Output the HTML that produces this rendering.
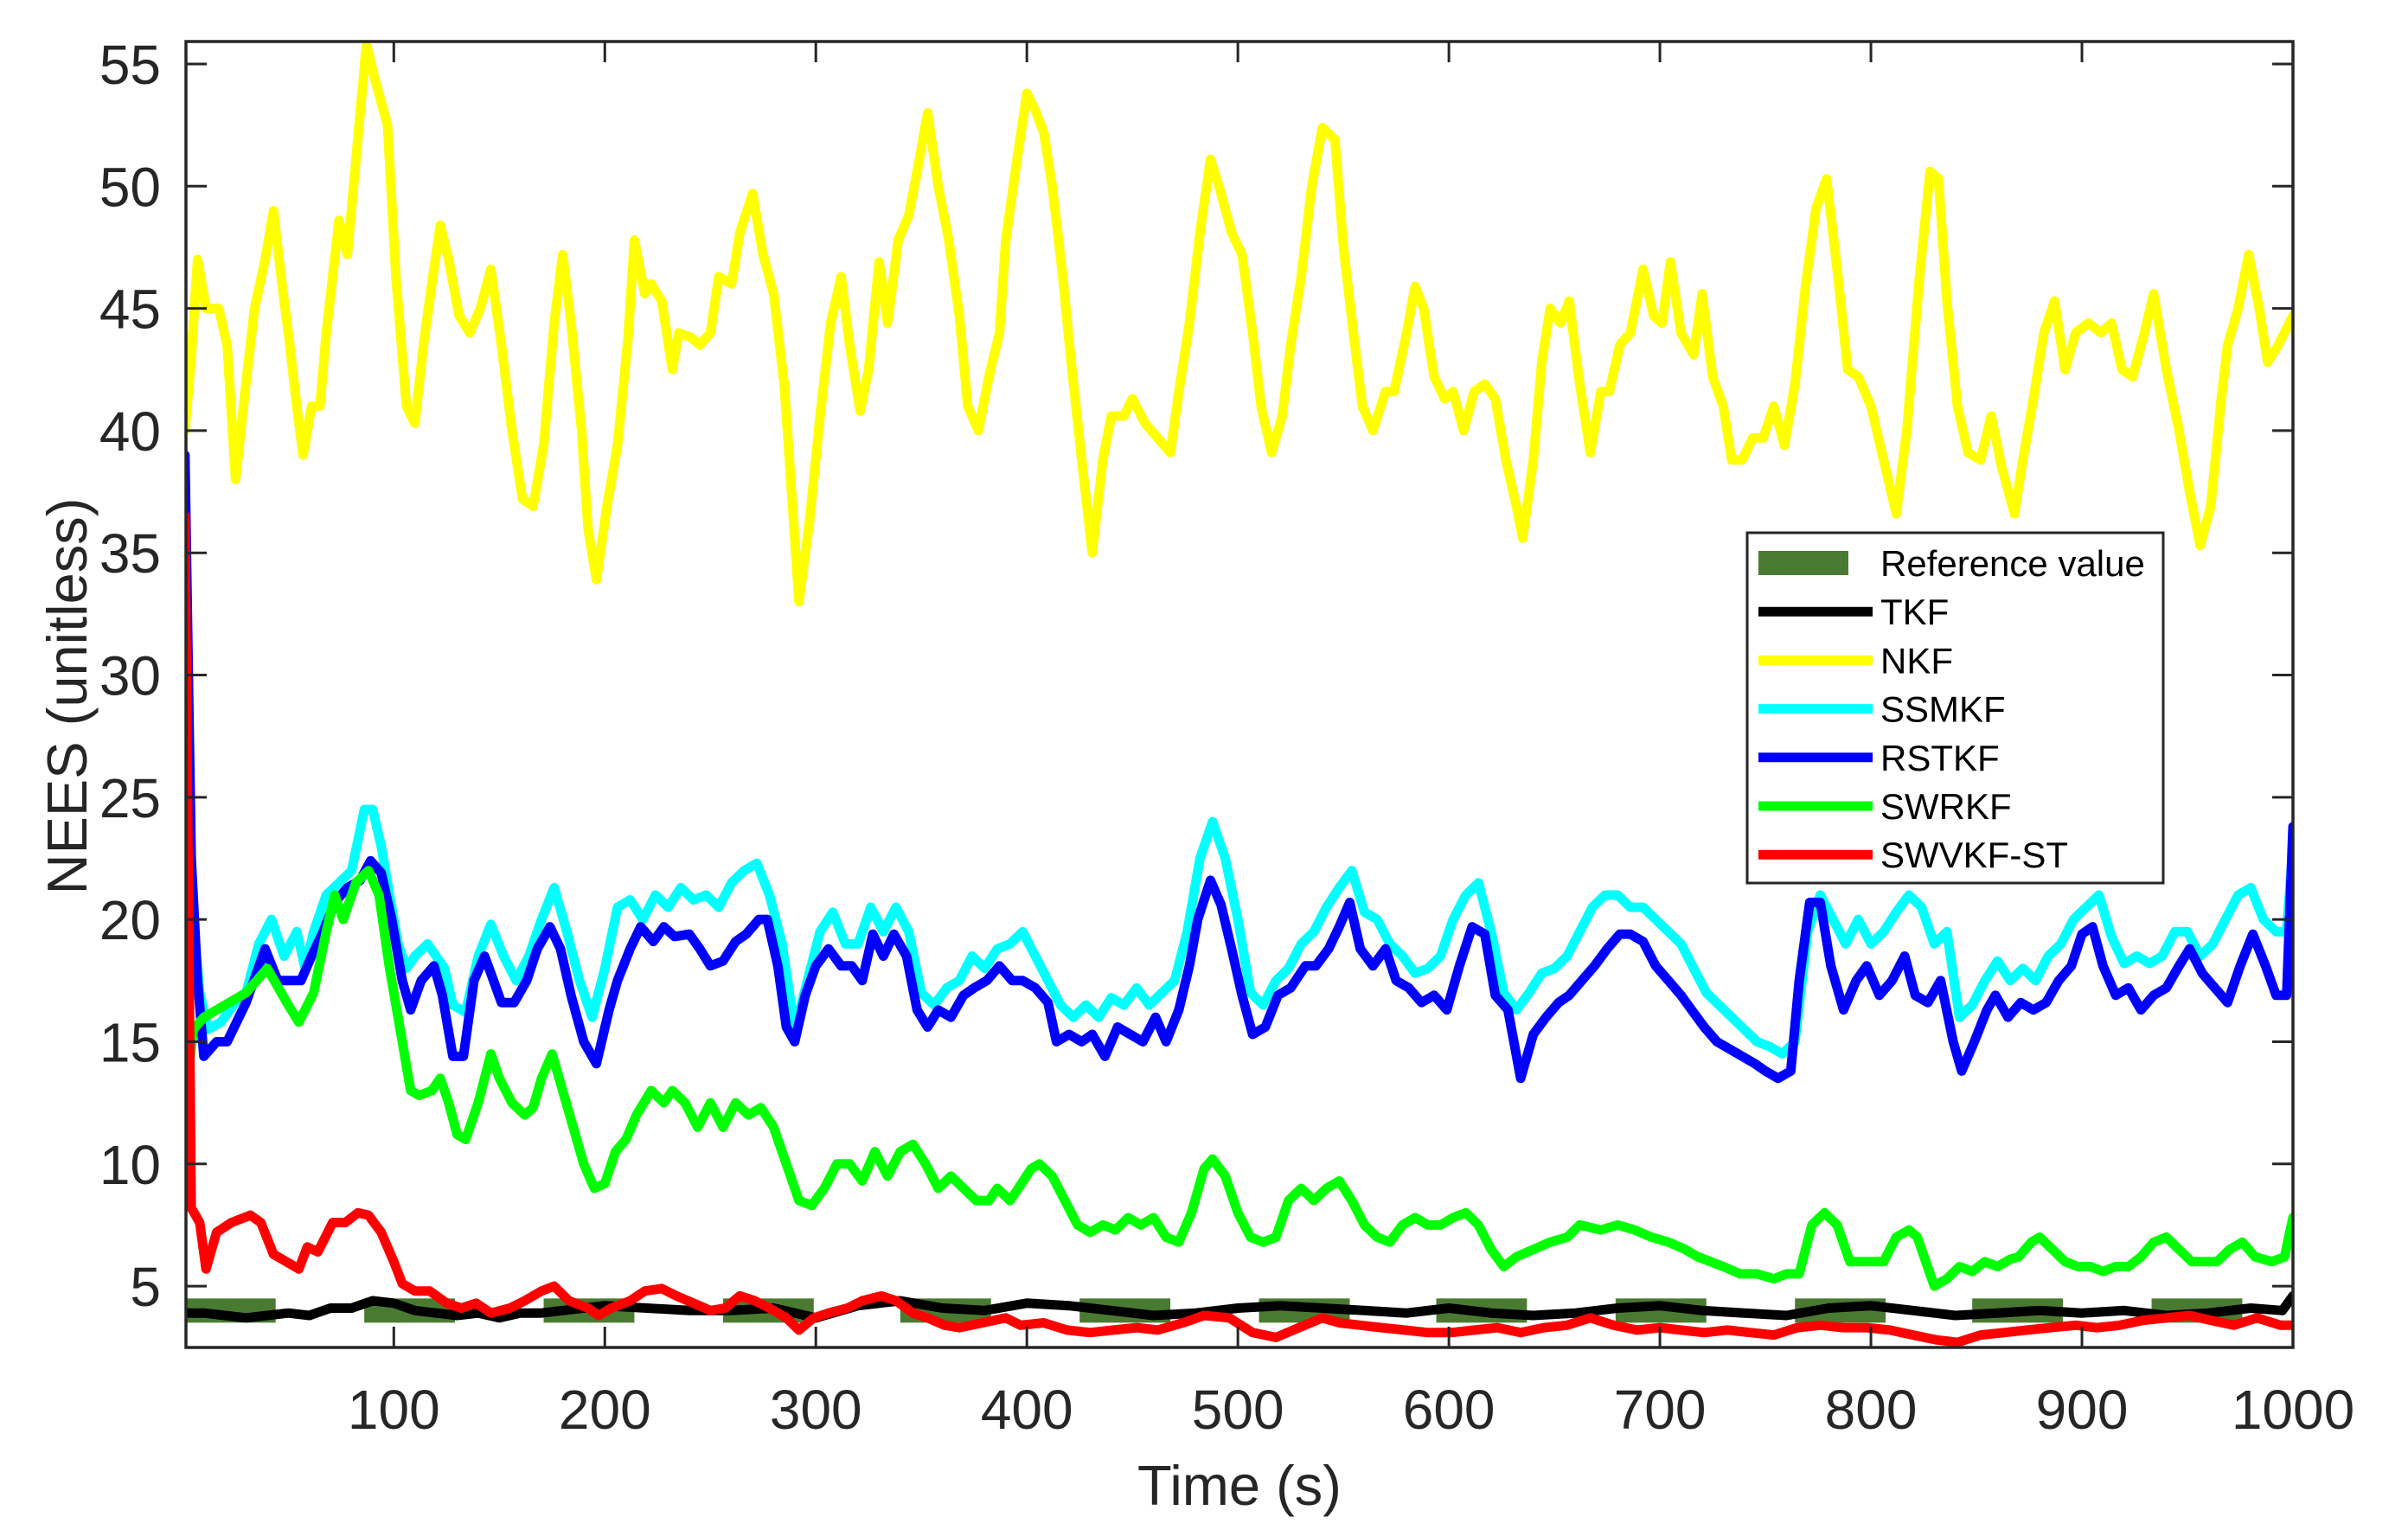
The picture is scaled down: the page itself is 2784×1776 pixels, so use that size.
<!DOCTYPE html>
<html><head><meta charset="utf-8">
<style>
html,body{margin:0;padding:0;background:#fff;}
svg{display:block;font-family:"Liberation Sans",Arial,sans-serif;}
</style></head>
<body>
<svg id="chart" width="2784" height="1776" viewBox="0 0 2784 1776" xmlns="http://www.w3.org/2000/svg">
<rect x="0" y="0" width="2784" height="1776" fill="#fff"/>
<g id="plot"></g>
<g id="axes"></g>
<g id="legend"></g>
</svg>
<script>
// ---- data ----
const xTicks = [100,200,300,400,500,600,700,800,900,1000];
const yTicks = [5,10,15,20,25,30,35,40,45,50,55];
const refStarts = [1,86,171,256,340,425,510,594,679,764,848,933];
const refLength = 43;
const refValue = 4;
const nkfX = [1,4,7,11,17,21,25,30,34,39,43,47,50,54,57,61,65,68,74,78,83,87,91,97,101,106,110,114,118,122,126,131,136,141,146,151,156,161,166,171,176,180,184,189,192,196,201,206,211,214,219,222,227,232,235,241,245,250,254,260,264,270,275,280,285,288,292,297,302,307,312,316,321,325,330,334,339,344,348,353,358,363,368,372,377,382,387,390,395,400,404,408,412,417,421,426,431,436,440,446,450,456,462,468,472,477,482,487,492,497,502,507,511,516,521,525,530,535,540,546,550,555,559,564,570,574,580,584,588,593,598,602,607,612,617,622,627,632,635,640,644,648,653,657,662,667,672,676,681,686,692,697,701,705,710,716,720,725,730,734,739,744,749,754,759,764,769,774,779,784,789,794,800,806,812,817,823,828,832,836,841,846,852,857,862,868,872,877,882,887,892,897,903,909,914,919,924,929,934,940,946,951,956,961,966,969,974,979,984,988,993,1000];
const nkfY = [40,43,47,45,45,43.5,38,42,45,47,49,46,44,41,39,41,41,44,48.6,47.2,52,55.8,54.4,52.5,46.3,41,40.3,43.5,46,48.4,47,44.7,44,45,46.6,43.5,40,37.2,36.9,39.4,44.4,47.2,44.4,40,36,33.9,36.9,39.4,43.8,47.8,45.6,46,45.3,42.5,44,43.8,43.5,44,46.3,46,48.1,49.7,47.2,45.6,41.9,38.1,33,36.3,40.6,44.4,46.3,43.5,40.8,42.5,46.9,44.4,47.8,48.8,50.6,53,50,47.8,44.7,41,40,42.2,44,47.8,50.9,53.8,53.1,52.2,50,46.3,42.8,38.8,35,38.8,40.6,40.6,41.3,40.3,39.7,39.1,41.6,44.4,48.1,51.1,49.7,48.1,47.2,44,41,39.1,40.6,43.5,46.3,50,52.4,51.9,47.5,43.8,41,40,41.6,41.6,44,45.9,45,42.2,41.3,41.6,40,41.6,41.9,41.3,38.8,36.9,35.6,38.8,42.8,45,44.4,45.3,41.9,39.1,41.6,41.6,43.5,44,46.6,44.7,44.4,46.9,44,43.1,45.6,42.2,41,38.8,38.8,39.7,39.7,41,39.4,41.9,45.9,49.1,50.3,46.6,42.5,42.2,41,38.8,36.6,40,46.3,50.6,50.3,45.3,41,39.1,38.8,40.6,38.5,36.6,38.8,41.3,44,45.3,42.5,44,44.4,44,44.4,42.5,42.2,43.8,45.6,42.5,40,37.5,35.3,36.9,41.3,43.5,45,47.2,45,42.8,43.5,44.7];
const rstX = [1,4,7,10,16,21,30,39,45,50,56,61,66,72,78,84,89,94,99,104,108,113,119,123,128,133,138,143,146,151,157,163,168,174,179,184,190,196,202,206,212,217,223,228,233,240,245,250,256,262,267,273,277,282,286,290,295,300,306,312,317,322,327,332,337,343,348,353,358,364,370,375,381,387,393,398,404,410,414,420,426,431,437,443,449,455,461,466,472,477,481,487,492,497,502,507,513,519,525,532,537,543,548,553,558,564,570,575,581,587,593,599,605,611,617,622,628,634,640,646,652,657,663,669,675,681,686,692,698,704,710,715,721,727,733,739,745,750,756,762,766,771,776,781,787,793,798,804,810,816,821,827,833,839,843,849,855,859,865,871,877,883,889,895,900,905,910,916,922,928,934,940,946,951,957,963,969,975,981,987,992,997,1000];
const rstY = [39,22.5,17.5,14.4,15,15,16.6,18.8,17.5,17.5,17.5,18.5,19.4,20.7,21.3,21.6,22.4,21.9,20,17.5,16.3,17.5,18.1,16.9,14.4,14.4,17.5,18.5,17.8,16.6,16.6,17.5,18.8,19.7,18.8,16.9,15,14.1,16.3,17.5,18.8,19.7,19.1,19.7,19.3,19.4,18.8,18.1,18.3,19.1,19.4,20,20,18.1,15.6,15,16.9,18.1,18.8,18.1,18.1,17.5,19.4,18.5,19.4,18.5,16.3,15.6,16.3,16,16.9,17.2,17.5,18.1,17.5,17.5,17.2,16.6,15,15.3,15,15.3,14.4,15.6,15.3,15,16,15,16.3,18.1,20,21.6,20.6,18.8,16.9,15.3,15.6,16.9,17.2,18.1,18.1,18.8,19.7,20.7,18.8,18.1,18.8,17.5,17.2,16.6,16.9,16.3,18.1,19.7,19.4,16.9,16.3,13.5,15.3,16,16.6,16.9,17.5,18.1,18.8,19.4,19.4,19.1,18.1,17.5,16.9,16.3,15.6,15,14.7,14.4,14.1,13.8,13.5,13.8,17.5,20.7,20.7,18.1,16.3,17.5,18.1,16.9,17.5,18.5,16.9,16.6,17.5,15,13.8,15,16.3,16.9,16,16.6,16.3,16.6,17.5,18.1,19.4,19.7,18.1,16.9,17.2,16.3,16.9,17.2,18.1,18.8,17.8,17.2,16.6,18.1,19.4,18.1,16.9,16.9,23.8];
const ssmX = [1,3,5,8,12,18,24,30,36,42,48,54,58,62,68,74,80,86,90,94,98,102,106,110,116,120,124,128,134,140,146,152,158,164,170,176,182,188,194,200,206,212,218,224,230,236,242,248,254,260,266,272,278,284,290,296,302,308,314,320,326,332,338,344,350,356,362,368,374,380,386,392,398,404,410,416,422,428,434,440,446,452,458,464,470,476,482,488,494,500,506,512,518,524,530,536,542,548,554,560,566,572,578,584,590,596,602,608,614,620,626,632,638,644,650,656,662,668,674,680,686,692,698,704,710,716,722,728,734,740,746,752,758,764,770,776,782,788,794,800,806,812,818,824,830,836,842,848,854,860,866,872,878,884,890,896,902,908,914,920,926,932,938,944,950,956,962,968,974,980,986,992,997,1000];
const ssmY = [39,25,20,17,15.5,15.8,16.5,17,19,20,18.5,19.5,18,19.5,21,21.5,22,24.5,24.5,23,21,19,18,18.5,19,18.5,18,16.5,16.2,18.5,19.8,18.5,17.5,18.5,20,21.3,19.5,17.5,16,18,20.5,20.8,20,21,20.5,21.3,20.8,21,20.5,21.5,22,22.3,21,19,15.5,17.5,19.5,20.3,19,19,20.5,19.5,20.5,19.5,17,16.5,17.2,17.5,18.5,18,18.8,19,19.5,18.5,17.5,16.5,16,16.5,16,16.8,16.5,17.2,16.5,17,17.5,19.5,22.5,24,22.5,20,17,16.5,17.5,18,19,19.5,20.5,21.3,22,20.3,20,19,18.5,17.8,18,18.5,20,21,21.5,19.5,17,16.3,17,17.8,18,18.5,19.5,20.5,21,21,20.5,20.5,20,19.5,19,18,17,16.5,16,15.5,15,14.8,14.5,15,19.5,21,20,19,20,19,19.5,20.3,21,20.5,19,19.5,16,16.5,17.5,18.3,17.5,18,17.5,18.5,19,20,20.5,21,19.3,18.2,18.5,18.2,18.5,19.5,19.5,18.5,19,20,21,21.3,20,19.5,19.5,23];
const swrX = [1,5,10,20,30,40,50,55,62,68,72,76,82,88,93,98,102,108,112,118,122,126,130,134,140,146,150,156,162,166,170,175,180,185,190,195,200,205,210,215,222,228,232,238,244,250,256,262,268,274,280,286,292,298,304,310,316,322,328,334,340,346,352,358,364,370,376,382,386,392,396,402,406,412,418,424,430,436,442,448,454,460,466,472,478,484,488,494,500,506,512,518,524,530,536,542,548,554,560,566,572,578,584,590,596,602,608,614,620,626,632,640,648,656,662,672,680,688,696,704,712,718,724,730,738,746,754,760,766,772,778,784,790,800,806,812,818,822,826,830,836,842,848,854,860,866,870,876,880,886,892,898,904,910,916,922,928,934,940,946,952,958,964,970,976,982,990,996,1000];
const swrY = [12.5,15.5,16,16.5,17,18,16.5,15.8,17,19.5,21,20,21.5,22,21,18,16,13,12.8,13,13.5,12.5,11.2,11,12.5,14.5,13.5,12.5,12,12.3,13.5,14.5,13,11.5,10,9,9.2,10.5,11,12,13,12.5,13,12.5,11.5,12.5,11.5,12.5,12,12.3,11.5,10,8.5,8.3,9,10,10,9.3,10.5,9.5,10.5,10.8,10,9,9.5,9,8.5,8.5,9,8.5,9,9.8,10,9.5,8.5,7.5,7.2,7.5,7.3,7.8,7.5,7.8,7,6.8,8,9.8,10.2,9.5,8,7,6.8,7,8.5,9,8.5,9,9.3,8.5,7.5,7,6.8,7.5,7.8,7.5,7.5,7.8,8,7.5,6.5,5.8,6.2,6.5,6.8,7,7.5,7.3,7.5,7.3,7,6.8,6.5,6.2,6,5.8,5.5,5.5,5.3,5.5,5.5,7.5,8,7.5,6,6,6,7,7.3,7,6,5,5.3,5.8,5.6,6,5.8,6.1,6.2,6.8,7,6.5,6,5.8,5.8,5.6,5.8,5.8,6.2,6.8,7,6.5,6,6,6,6.5,6.8,6.2,6,6.2,7.8];
const swvX = [1,4,8,11,16,23,32,37,43,49,55,59,64,71,77,83,88,94,100,104,110,117,125,132,139,146,155,162,170,176,183,192,197,203,212,219,227,234,242,250,257,264,271,278,286,292,299,306,315,322,331,338,346,353,361,368,379,390,397,408,419,430,441,452,462,474,484,496,507,518,529,540,548,558,568,579,590,601,612,623,634,645,656,667,678,689,700,710,721,732,743,754,765,776,787,798,809,820,831,841,852,863,874,885,897,907,918,929,940,951,961,972,983,994,1000];
const swvY = [36.5,8.2,7.6,5.7,7.2,7.6,7.9,7.6,6.3,6,5.7,6.6,6.4,7.6,7.6,8,7.9,7.2,6,5.1,4.8,4.8,4.3,4.1,4.3,3.9,4.1,4.4,4.8,5,4.4,4.1,3.8,4.1,4.4,4.8,4.9,4.6,4.3,4,4.1,4.6,4.4,4.1,3.7,3.2,3.7,3.9,4.1,4.4,4.6,4.4,3.9,3.7,3.4,3.3,3.5,3.7,3.4,3.5,3.2,3.1,3.2,3.3,3.2,3.5,3.8,3.7,3.1,2.9,3.3,3.7,3.5,3.4,3.3,3.2,3.1,3.1,3.2,3.3,3.1,3.3,3.4,3.7,3.4,3.2,3.3,3.2,3.1,3.2,3.1,3,3.3,3.4,3.3,3.3,3.2,3,2.8,2.7,3,3.1,3.2,3.3,3.4,3.3,3.4,3.6,3.7,3.8,3.6,3.4,3.7,3.4,3.4];
const tkfX = [1,10,20,30,40,50,60,70,80,90,100,110,120,130,140,150,160,170,180,190,200,220,240,260,280,300,320,340,360,380,400,420,440,460,480,500,520,540,560,580,600,620,640,660,680,700,720,740,760,780,800,820,840,860,880,900,920,940,960,980,995,1000];
const tkfY = [3.9,3.9,3.8,3.7,3.8,3.9,3.8,4.1,4.1,4.4,4.3,4,3.9,3.8,3.9,3.7,3.9,3.9,4,4.1,4.2,4.1,4,4,4.1,3.7,4.2,4.4,4.1,4,4.3,4.2,4,3.8,3.9,4.1,4.2,4.1,4,3.9,4.1,3.9,3.8,3.9,4.1,4.2,4,3.9,3.8,4.1,4.2,4,3.8,3.9,4,3.9,4,3.8,3.9,4.1,4,4.6];
const legendLabels = ["Reference value","TKF","NKF","SSMKF","RSTKF","SWRKF","SWVKF-ST"];
const seriesColors = ["#4a7a32","#000000","#ffff00","#00ffff","#0000ff","#00ff00","#ff0000"];

// ---- layout ----
const L=215,R=2651,T=48,B=1558;
const xMin=1.5,xMax=1000,yMin=2.49,yMax=55.92;
const sx=v=>L+(v-xMin)/(xMax-xMin)*(R-L);
const sy=v=>B-(v-yMin)/(yMax-yMin)*(B-T);
const NS="http://www.w3.org/2000/svg";
function mk(tag,attrs,parent){const e=document.createElementNS(NS,tag);for(const k in attrs)e.setAttribute(k,attrs[k]);parent.appendChild(e);return e;}
const plot=document.getElementById('plot'),axes=document.getElementById('axes'),leg=document.getElementById('legend');

mk('clipPath',{id:'clip'},plot);
mk('rect',{x:L,y:T,width:R-L,height:B-T},document.getElementById('clip'));
const g=mk('g',{'clip-path':'url(#clip)'},plot);

refStarts.forEach(s=>{
  const r=mk('rect',{x:sx(Math.max(s,xMin)),y:sy(refValue)-14,width:sx(s+refLength)-sx(Math.max(s,xMin)),height:28,fill:seriesColors[0]},g);
  
  
});
function line(xs,ys,color,name,w){
  const d=xs.map((x,i)=>(i?'L':'M')+sx(x).toFixed(1)+' '+sy(ys[i]).toFixed(1)).join(' ');
  const p=mk('path',{d:d,fill:'none',stroke:color,'stroke-width':w,'stroke-linejoin':'round','stroke-linecap':'round'},g);
  
  
}
line(tkfX,tkfY,seriesColors[1],'tkf-line',11);
line(nkfX,nkfY,seriesColors[2],'nkf-line',11);
line(ssmX,ssmY,seriesColors[3],'ssmkf-line',11);
line(rstX,rstY,seriesColors[4],'rstkf-line',11);
line(swrX,swrY,seriesColors[5],'swrkf-line',11);
line(swvX,swvY,seriesColors[6],'swvkf-st-line',11);

const box=mk('rect',{x:L,y:T,width:R-L,height:B-T,fill:'none',stroke:'#262626','stroke-width':3.5},axes);


xTicks.forEach(v=>{
  const x=sx(v);
  mk('line',{x1:x,y1:B,x2:x,y2:B-24,stroke:'#262626','stroke-width':3},axes);
  mk('line',{x1:x,y1:T,x2:x,y2:T+24,stroke:'#262626','stroke-width':3},axes);
  const t=mk('text',{x:x,y:1652,'text-anchor':'middle','font-size':64,fill:'#262626'},axes);
  t.textContent=v;
  
  
});
yTicks.forEach(v=>{
  const y=sy(v);
  mk('line',{x1:L,y1:y,x2:L+24,y2:y,stroke:'#262626','stroke-width':3},axes);
  mk('line',{x1:R,y1:y,x2:R-24,y2:y,stroke:'#262626','stroke-width':3},axes);
  const t=mk('text',{x:186,y:y+23,'text-anchor':'end','font-size':64,fill:'#262626'},axes);
  t.textContent=v;
  
  
});
const xt=mk('text',{x:1433,y:1740,'text-anchor':'middle','font-size':65,fill:'#262626'},axes);
xt.textContent='Time (s)';


const yt=mk('text',{x:0,y:0,'text-anchor':'middle','font-size':65,fill:'#262626',transform:'translate(100,805) rotate(-90)'},axes);
yt.textContent='NEES (unitless)';



const lb=mk('rect',{x:2020,y:616,width:481,height:405,fill:'#fff',stroke:'#262626','stroke-width':3},leg);


legendLabels.forEach((lab,i)=>{
  const cy=651+i*56.2;
  const ge=mk('g',{},leg);
  
  
  if(i===0) mk('rect',{x:2033,y:cy-14,width:104,height:28,fill:seriesColors[0]},ge);
  else mk('line',{x1:2033,y1:cy,x2:2165,y2:cy,stroke:seriesColors[i],'stroke-width':11},ge);
  const t=mk('text',{x:2174,y:cy+15,'font-size':42,fill:'#000'},ge);
  t.textContent=lab;
});
</script>
</body></html>
